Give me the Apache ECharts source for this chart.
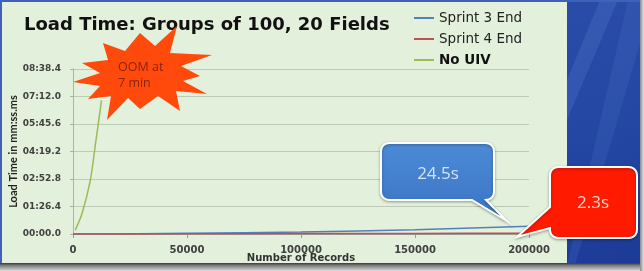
<!DOCTYPE html>
<html>
<head>
<meta charset="utf-8">
<script src="https://cdn.jsdelivr.net/npm/echarts@6/dist/echarts.min.js"></script>
<style>html,body{margin:0;padding:0;background:#e3f1dc;}#c{width:644px;height:271px;}</style>
</head>
<body>
<div id="c"></div>
<script>
// ---- data ----
var seriesNames = ['Sprint 3 End', 'Sprint 4 End', 'No UIV'];
var sprintRecords = [0, 50000, 100000, 150000, 200000];
var sprint3 = [0, 2, 6, 13, 24.5];
var sprint4 = [0, 0.6, 1.2, 1.8, 2.3];
var noUivRecords = [1000, 4000, 7500, 10000, 12500];
var noUiv = [12, 65, 165, 290, 420];
var yTickLabels = ['00:00.0', '01:26.4', '02:52.8', '04:19.2', '05:45.6', '07:12.0', '08:38.4'];
var xTickLabels = ['0', '50000', '100000', '150000', '200000'];
var colors = ['#4f81bd', '#c0504d', '#9bbb59'];

function pairs(xs, ys) { return xs.map(function (x, i) { return [x, ys[i]]; }); }

// rounded-corner helper for decoration shapes
function arc(cx, cy, r, a0, a1) {
  var pts = [], n = 5;
  for (var i = 0; i <= n; i++) {
    var a = (a0 + (a1 - a0) * i / n) * Math.PI / 180;
    pts.push([cx + r * Math.cos(a), cy + r * Math.sin(a)]);
  }
  return pts;
}
function blueCallout() {
  var x0 = 381, y0 = 143, x1 = 494, y1 = 200, r = 8;
  return [].concat(
    arc(x1 - r, y0 + r, r, -90, 0),
    arc(x1 - r, y1 - r, r, 0, 90),
    [[486, y1], [507, 221], [472, y1]],
    arc(x0 + r, y1 - r, r, 90, 180),
    arc(x0 + r, y0 + r, r, 180, 270)
  );
}
function redCallout() {
  var x0 = 550, y0 = 167, x1 = 637, y1 = 238, r = 8;
  return [].concat(
    arc(x1 - r, y0 + r, r, -90, 0),
    arc(x1 - r, y1 - r, r, 0, 90),
    arc(x0 + r, y1 - r, r, 90, 180),
    [[x0, 228], [517, 237], [x0, 207]],
    arc(x0 + r, y0 + r, r, 180, 270)
  );
}

var chart = echarts.init(document.getElementById('c'), null, { renderer: 'canvas' });
var option = {
  animation: false,
  backgroundColor: '#e3f1dc',
  title: {
    text: 'Load Time: Groups of 100, 20 Fields',
    left: 19, top: 11,
    textStyle: { fontFamily: 'DejaVu Sans', fontWeight: 'bold', fontSize: 18, color: '#111' }
  },
  legend: {
    orient: 'vertical', left: 409, top: 6, itemGap: 7,
    itemWidth: 20, itemHeight: 2, icon: 'rect',
    data: seriesNames,
    formatter: function (n) { return n === 'No UIV' ? '{b|' + n + '}' : n; },
    textStyle: { fontFamily: 'DejaVu Sans', fontSize: 13.5, color: '#222',
      rich: { b: { fontFamily: 'DejaVu Sans', fontSize: 13.5, fontWeight: 'bold', color: '#111' } } }
  },
  grid: { left: 73, right: 115, top: 69, bottom: 37, containLabel: false, outerBoundsMode: 'none' },
  xAxis: {
    type: 'value', min: 0, max: 200000, interval: 50000,
    name: 'Number of Records', nameLocation: 'middle', nameGap: 19, nameMoveOverlap: false,
    nameTextStyle: { fontFamily: 'DejaVu Sans', fontWeight: 'bold', fontSize: 10, color: '#333' },
    axisLine: { lineStyle: { color: '#9a9a9a' } },
    axisTick: { show: true, length: 4, lineStyle: { color: '#9a9a9a' } },
    splitLine: { show: false },
    axisLabel: { margin: 11, fontFamily: 'DejaVu Sans', fontWeight: 'bold', fontSize: 10, color: '#404040',
      formatter: function (v) { return xTickLabels[Math.round(v / 50000)]; } }
  },
  yAxis: {
    type: 'value', min: 0, max: 518.4, interval: 86.4,
    name: 'Load Time in mm:ss.ms', nameLocation: 'middle', nameRotate: 90, nameGap: 54, nameMoveOverlap: false,
    nameTextStyle: { fontFamily: 'Lato', fontWeight: 'bold', fontSize: 11, color: '#222' },
    axisLine: { show: true, lineStyle: { color: '#a8b4a4' } },
    axisTick: { show: true, length: 3, lineStyle: { color: '#a8b4a4' } },
    splitLine: { lineStyle: { color: '#bccab6', width: 1 } },
    axisLabel: { margin: 12, fontFamily: 'DejaVu Sans', fontWeight: 'bold', fontSize: 9, color: '#404040',
      formatter: function (v) { return yTickLabels[Math.round(v / 86.4)]; } }
  },
  series: [
    { name: seriesNames[0], type: 'line', data: pairs(sprintRecords, sprint3), smooth: 0.3, symbol: 'none',
      lineStyle: { color: colors[0], width: 1.5 }, itemStyle: { color: colors[0] }, z: 3 },
    { name: seriesNames[1], type: 'line', data: pairs(sprintRecords, sprint4), smooth: 0.3, symbol: 'none',
      lineStyle: { color: colors[1], width: 1.5 }, itemStyle: { color: colors[1] }, z: 3 },
    { name: seriesNames[2], type: 'line', data: pairs(noUivRecords, noUiv), smooth: 0.3, symbol: 'none',
      lineStyle: { color: colors[2], width: 1.5 }, itemStyle: { color: colors[2] }, z: 3 }
  ],
  graphic: { elements: [
    // right dark blue panel
    { type: 'rect', z: -10, shape: { x: 567, y: 0, width: 74, height: 265 },
      style: { fill: new echarts.graphic.LinearGradient(0, 0, 1, 1, [
        { offset: 0, color: '#2a4ca8' }, { offset: 0.5, color: '#2347a3' }, { offset: 1, color: '#1c3a96' }]) } },
    { type: 'polygon', z: -9, shape: { points: [[600, 0], [618, 0], [567, 120], [567, 80]] },
      style: { fill: 'rgba(90,130,210,0.25)' } },
    { type: 'polygon', z: -9, shape: { points: [[628, 0], [641, 0], [641, 40], [575, 265], [567, 265]] },
      style: { fill: 'rgba(90,130,210,0.18)' } },
    // borders
    { type: 'rect', z: -8, shape: { x: 0, y: 0, width: 644, height: 2 }, style: { fill: '#3e62b8' } },
    { type: 'rect', z: -8, shape: { x: 0, y: 0, width: 2, height: 265 }, style: { fill: '#3e62b8' } },
    { type: 'rect', z: -8, shape: { x: 0, y: 263, width: 644, height: 8 },
      style: { fill: new echarts.graphic.LinearGradient(0, 0, 0, 1, [
        { offset: 0, color: '#3a3a3a' }, { offset: 0.3, color: '#7a7a7a' }, { offset: 1, color: '#dcdcdc' }]) } },
    { type: 'rect', z: -8, shape: { x: 640, y: 0, width: 4, height: 271 },
      style: { fill: new echarts.graphic.LinearGradient(0, 0, 1, 0, [
        { offset: 0, color: '#8a8a8a' }, { offset: 1, color: '#e6e6e6' }]) } },
    // starburst
    { type: 'polygon', z: 100, shape: { points: [
        [140, 33], [155, 46], [177, 26], [170, 53], [212, 55], [181, 66], [200, 76], [183, 81],
        [207, 94], [176, 91], [180, 111], [158, 96], [140, 109], [128, 98], [107, 120], [111, 96],
        [88, 99], [100, 86], [73, 82], [100, 73], [82, 63], [108, 60], [103, 43], [125, 51]
      ] }, style: { fill: '#ff4a0c' } },
    { type: 'text', z: 101, x: 118, y: 59,
      style: { text: 'OOM at\n7 min', fill: '#8a2410', font: '12.5px "Open Sans"', lineHeight: 16 } },
    // blue callout
    { type: 'polygon', z: 100, shape: { points: blueCallout() },
      style: { fill: new echarts.graphic.LinearGradient(0, 0, 0, 1, [
          { offset: 0, color: '#4c8ad6' }, { offset: 1, color: '#3a74c4' }]),
        stroke: '#ffffff', lineWidth: 2, shadowBlur: 3, shadowColor: 'rgba(0,0,0,0.3)', shadowOffsetY: 1 } },
    { type: 'text', z: 101, x: 438, y: 174,
      style: { text: '24.5s', fill: '#d4e3f6', font: '17px "Open Sans"', align: 'center', verticalAlign: 'middle' } },
    // red callout
    { type: 'polygon', z: 100, shape: { points: redCallout() },
      style: { fill: '#ff1a00', stroke: '#ffffff', lineWidth: 2, shadowBlur: 3, shadowColor: 'rgba(0,0,0,0.3)', shadowOffsetY: 1 } },
    { type: 'text', z: 101, x: 593, y: 203,
      style: { text: '2.3s', fill: '#ffd2c4', font: '17px "Open Sans"', align: 'center', verticalAlign: 'middle' } }
  ] }
};
chart.setOption(option);
</script>
</body>
</html>
